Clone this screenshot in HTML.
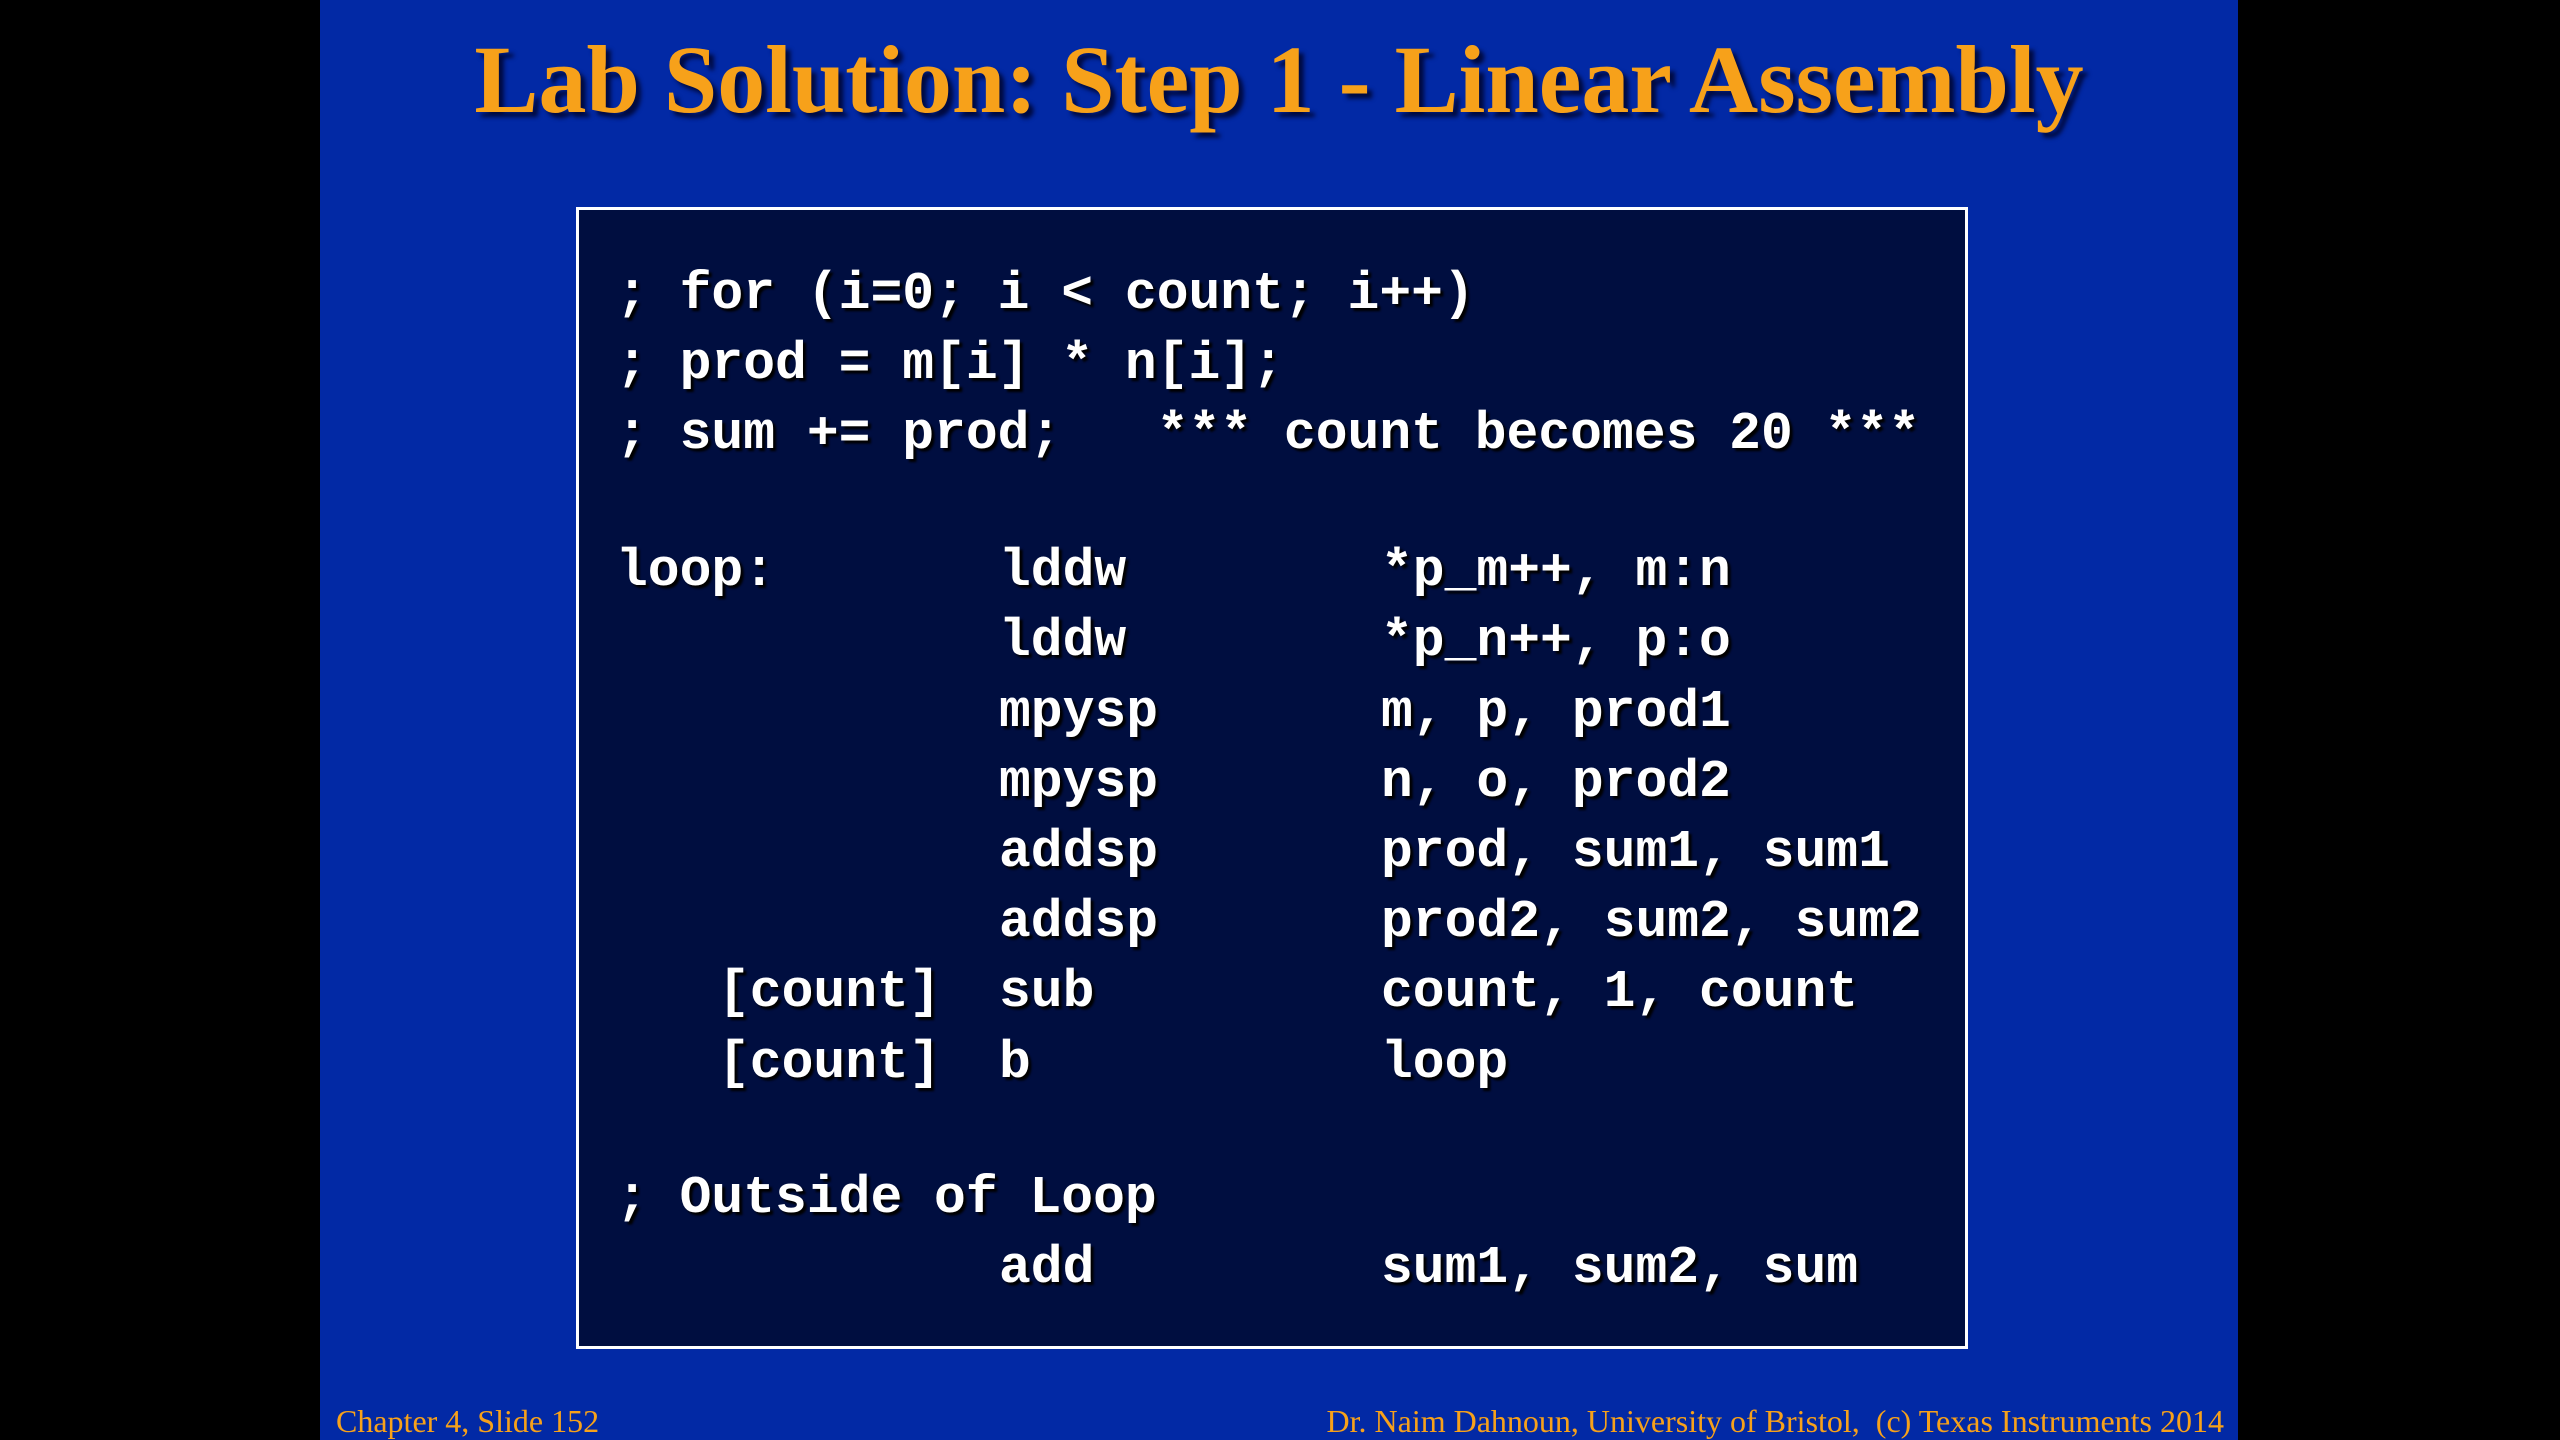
<!DOCTYPE html>
<html><head><style>
html,body{margin:0;padding:0;background:#000;}
#s{position:absolute;left:320px;top:0;width:1918px;height:1440px;background:#0229a5;overflow:hidden;}
#t{position:absolute;left:0;width:1918px;top:24px;text-align:center;font:bold 96px "Liberation Serif",serif;color:#f7a11a;text-shadow:5px 5px 4px #000a40;white-space:nowrap;}
#b{position:absolute;left:256px;top:207px;width:1386px;height:1136px;background:#000e40;border:3px solid #fff;}
.c{position:absolute;font:bold 53px/70px "Liberation Mono",monospace;color:#fff;text-shadow:3px 3px 2px #000;white-space:pre;}
.f{position:absolute;top:1403px;font:32px "Liberation Serif",serif;color:#f7a11a;white-space:nowrap;}
</style></head><body>
<div id="s">
<div id="t">Lab Solution: Step 1 - Linear Assembly</div>
<div id="b"></div>
<div class="c" style="left:296px;top:259px">; for (i=0; i &lt; count; i++)</div>
<div class="c" style="left:296px;top:329px">; prod = m[i] * n[i];</div>
<div class="c" style="left:296px;top:399px">; sum += prod;   *** count becomes 20 ***</div>

<div class="c" style="left:296px;top:536px">loop:</div>
<div class="c" style="left:679px;top:536px">lddw</div>
<div class="c" style="left:1061px;top:536px">*p_m++, m:n</div>
<div class="c" style="left:679px;top:606px">lddw</div>
<div class="c" style="left:1061px;top:606px">*p_n++, p:o</div>
<div class="c" style="left:679px;top:677px">mpysp</div>
<div class="c" style="left:1061px;top:677px">m, p, prod1</div>
<div class="c" style="left:679px;top:747px">mpysp</div>
<div class="c" style="left:1061px;top:747px">n, o, prod2</div>
<div class="c" style="left:679px;top:817px">addsp</div>
<div class="c" style="left:1061px;top:817px">prod, sum1, sum1</div>
<div class="c" style="left:679px;top:887px">addsp</div>
<div class="c" style="left:1061px;top:887px">prod2, sum2, sum2</div>
<div class="c" style="left:398px;top:957px">[count]</div>
<div class="c" style="left:679px;top:957px">sub</div>
<div class="c" style="left:1061px;top:957px">count, 1, count</div>
<div class="c" style="left:398px;top:1028px">[count]</div>
<div class="c" style="left:679px;top:1028px">b</div>
<div class="c" style="left:1061px;top:1028px">loop</div>

<div class="c" style="left:296px;top:1163px">; Outside of Loop</div>
<div class="c" style="left:679px;top:1233px">add</div>
<div class="c" style="left:1061px;top:1233px">sum1, sum2, sum</div>

<div class="f" style="left:16px">Chapter 4, Slide 152</div>
<div class="f" style="right:14px">Dr. Naim Dahnoun, University of Bristol,&nbsp; (c) Texas Instruments 2014</div>
</div>
</body></html>
